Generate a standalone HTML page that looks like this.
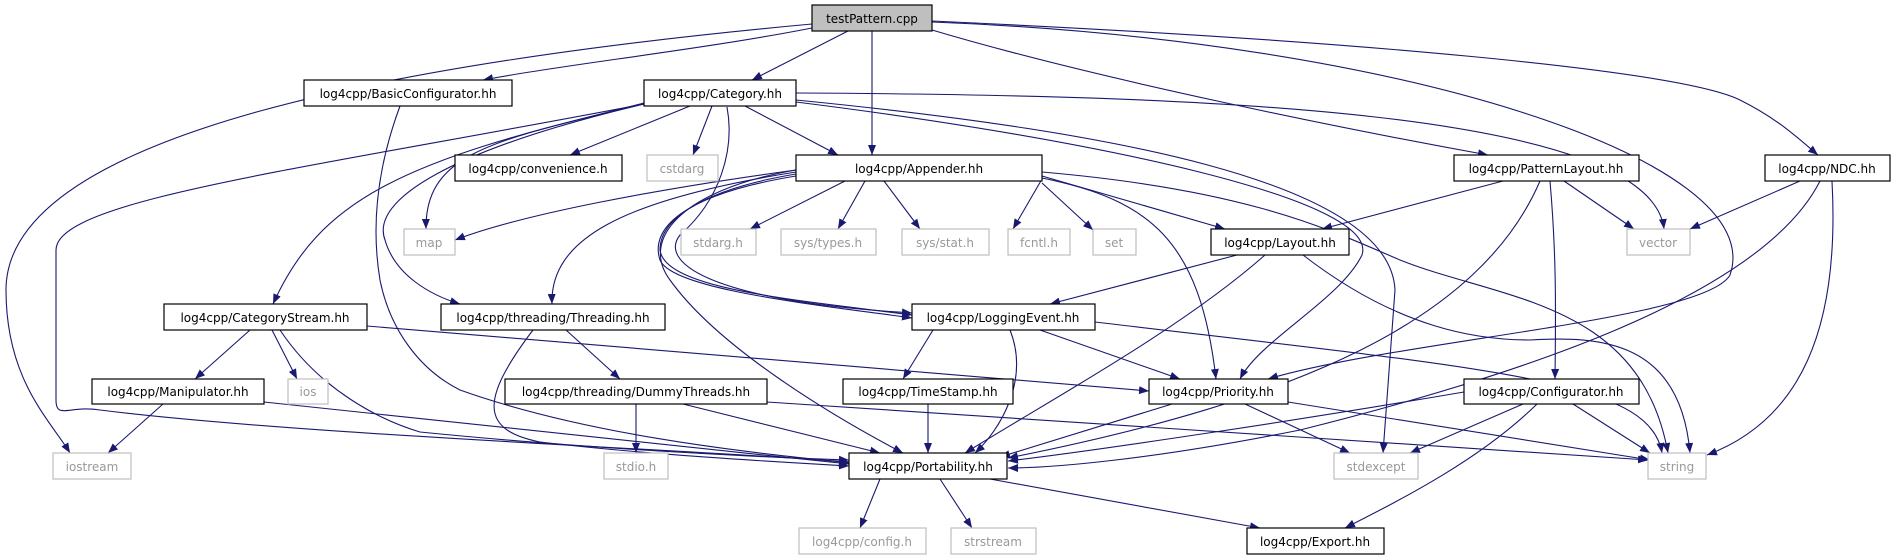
<!DOCTYPE html>
<html><head><meta charset="utf-8"><style>
html,body{margin:0;padding:0;background:#fff;width:1896px;height:560px;overflow:hidden}
svg text{font-family:"DejaVu Sans","Liberation Sans",sans-serif;font-size:12px;fill:#000}
</style></head><body>
<svg width="1896" height="560" viewBox="0 0 1896 560" xmlns="http://www.w3.org/2000/svg">
<defs>
<marker id="a" viewBox="0 0 10 8" refX="10" refY="4" markerWidth="10" markerHeight="8" markerUnits="userSpaceOnUse" orient="auto">
<path d="M0,0 L10,4 L0,8 z" fill="#191970"/>
</marker>
</defs>
<g fill="none" stroke="#191970" stroke-width="1.1" marker-end="url(#a)">
<path d="M812,24 C420,60 6,130 6,290 C6,380 50,420 70,453"/>
<path d="M812,28 C700,50 560,65 483,80"/>
<path d="M848,31 L752,80"/>
<path d="M872,31 L872,155"/>
<path d="M932,30 C1100,80 1350,130 1488,155"/>
<path d="M932,22 C1400,40 1770,160 1730,275 C1705,320 1400,340 1268,379"/>
<path d="M932,21 C1350,40 1680,70 1740,100 C1780,120 1800,140 1818,155"/>
<path d="M690,106 L570,155"/>
<path d="M712,106 L693,155"/>
<path d="M745,106 L838,155"/>
<path d="M644,103 C500,140 425,150 426,229"/>
<path d="M644,104 C400,160 320,200 273,304"/>
<path d="M644,104 C300,170 56,200 56,250 L56,400 C56,420 70,405 100,410 C300,435 700,450 849,462"/>
<path d="M644,104 C450,150 370,200 385,240 C395,275 430,295 460,304"/>
<path d="M727,107 C735,150 720,200 680,235 C660,260 700,300 912,313"/>
<path d="M796,93 C1200,95 1650,110 1664,229"/>
<path d="M796,100 C1100,130 1390,180 1395,290 L1383,453"/>
<path d="M796,102 C1100,140 1380,200 1362,255 C1340,300 1260,340 1240,379"/>
<path d="M400,106 C380,160 370,220 380,280 C390,330 420,370 460,390 C600,440 780,455 849,463"/>
<path d="M796,170 C650,190 520,215 455,240"/>
<path d="M845,181 L750,229"/>
<path d="M865,181 L838,229"/>
<path d="M884,181 L920,229"/>
<path d="M1042,179 L1013,229"/>
<path d="M1042,183 L1093,230"/>
<path d="M1042,176 L1225,229"/>
<path d="M1042,172 C1250,190 1330,230 1400,260 C1500,300 1640,300 1668,453"/>
<path d="M1042,178 C1150,200 1200,240 1216,379"/>
<path d="M796,172 C620,200 550,240 552,304"/>
<path d="M796,174 C700,190 660,220 660,250 C665,290 800,300 912,315"/>
<path d="M796,176 C680,195 650,230 660,260 C672,290 820,305 912,318"/>
<path d="M796,170 C680,190 640,240 670,280 C720,350 840,420 903,453"/>
<path d="M933,330 L903,379"/>
<path d="M1010,330 C1030,380 1000,430 975,453"/>
<path d="M1040,330 L1180,379"/>
<path d="M1095,322 C1500,370 1650,380 1662,453"/>
<path d="M1237,255 L1050,304"/>
<path d="M1265,255 C1180,330 1050,400 965,453"/>
<path d="M1303,255 C1400,330 1480,340 1530,340 C1600,336 1680,340 1690,453"/>
<path d="M1503,181 L1322,229"/>
<path d="M1564,181 L1634,229"/>
<path d="M1540,181 C1480,320 1300,400 1008,458"/>
<path d="M1550,181 C1556,250 1556,300 1555,379"/>
<path d="M1800,181 L1690,229"/>
<path d="M1832,181 C1840,330 1800,420 1707,455"/>
<path d="M1820,181 C1760,300 1500,380 1300,430 C1150,460 1050,468 1008,468"/>
<path d="M1464,392 C1300,420 1100,450 1008,461"/>
<path d="M1523,404 L1410,453"/>
<path d="M1573,404 L1650,453"/>
<path d="M1537,404 C1480,460 1400,500 1345,528"/>
<path d="M1172,404 L1000,457"/>
<path d="M1245,404 L1350,453"/>
<path d="M1288,402 L1650,460"/>
<path d="M880,479 L860,528"/>
<path d="M940,479 L972,528"/>
<path d="M990,479 L1260,528"/>
<path d="M250,330 L195,379"/>
<path d="M272,330 L297,379"/>
<path d="M280,330 C320,390 380,420 420,432 C600,450 780,458 849,460"/>
<path d="M367,326 L1149,391"/>
<path d="M163,404 L108,453"/>
<path d="M264,402 L849,464"/>
<path d="M566,330 L620,379"/>
<path d="M533,330 C480,400 480,430 540,442 C650,455 780,462 849,466"/>
<path d="M636,404 L636,453"/>
<path d="M683,404 L880,453"/>
<path d="M767,402 L1648,460"/>
<path d="M928,404 L928,453"/>
</g>
<g stroke-width="1.2">
<rect x="812" y="5" width="120" height="26" fill="#bfbfbf" stroke="#000"/>
<text x="872" y="23" text-anchor="middle">testPattern.cpp</text>
<g fill="#fff" stroke="#000">
<rect x="304" y="80" width="208" height="26"/>
<rect x="644" y="80" width="152" height="26"/>
<rect x="455" y="155" width="167" height="26"/>
<rect x="796" y="155" width="246" height="26"/>
<rect x="1454" y="155" width="185" height="26"/>
<rect x="1765" y="155" width="125" height="26"/>
<rect x="1211" y="229" width="138" height="26"/>
<rect x="164" y="304" width="203" height="26"/>
<rect x="441" y="304" width="224" height="26"/>
<rect x="912" y="304" width="183" height="26"/>
<rect x="92" y="379" width="172" height="25"/>
<rect x="505" y="379" width="262" height="25"/>
<rect x="843" y="379" width="170" height="25"/>
<rect x="1149" y="379" width="139" height="25"/>
<rect x="1464" y="379" width="175" height="25"/>
<rect x="849" y="453" width="158" height="26"/>
<rect x="1247" y="528" width="137" height="26"/>
</g>
<g fill="#fff" stroke="#bfbfbf">
<rect x="647" y="155" width="71" height="26"/>
<rect x="404" y="229" width="51" height="26"/>
<rect x="681" y="229" width="75" height="26"/>
<rect x="781" y="229" width="95" height="26"/>
<rect x="902" y="229" width="87" height="26"/>
<rect x="1008" y="229" width="62" height="26"/>
<rect x="1093" y="229" width="43" height="26"/>
<rect x="1627" y="229" width="63" height="26"/>
<rect x="288" y="379" width="40" height="25"/>
<rect x="53" y="453" width="78" height="26"/>
<rect x="604" y="453" width="64" height="26"/>
<rect x="1334" y="453" width="84" height="26"/>
<rect x="1648" y="453" width="58" height="26"/>
<rect x="799" y="528" width="127" height="26"/>
<rect x="951" y="528" width="85" height="26"/>
</g>
</g>
<g text-anchor="middle">
<text x="408" y="98">log4cpp/BasicConfigurator.hh</text>
<text x="720" y="98">log4cpp/Category.hh</text>
<text x="538" y="173">log4cpp/convenience.h</text>
<text x="682" y="173" style="fill:#999">cstdarg</text>
<text x="919" y="173">log4cpp/Appender.hh</text>
<text x="1546" y="173">log4cpp/PatternLayout.hh</text>
<text x="1827" y="173">log4cpp/NDC.hh</text>
<text x="429" y="247" style="fill:#999">map</text>
<text x="718" y="247" style="fill:#999">stdarg.h</text>
<text x="828" y="247" style="fill:#999">sys/types.h</text>
<text x="945" y="247" style="fill:#999">sys/stat.h</text>
<text x="1039" y="247" style="fill:#999">fcntl.h</text>
<text x="1114" y="247" style="fill:#999">set</text>
<text x="1280" y="247">log4cpp/Layout.hh</text>
<text x="1658" y="247" style="fill:#999">vector</text>
<text x="265" y="322">log4cpp/CategoryStream.hh</text>
<text x="553" y="322">log4cpp/threading/Threading.hh</text>
<text x="1003" y="322">log4cpp/LoggingEvent.hh</text>
<text x="178" y="396">log4cpp/Manipulator.hh</text>
<text x="308" y="396" style="fill:#999">ios</text>
<text x="636" y="396">log4cpp/threading/DummyThreads.hh</text>
<text x="928" y="396">log4cpp/TimeStamp.hh</text>
<text x="1218" y="396">log4cpp/Priority.hh</text>
<text x="1551" y="396">log4cpp/Configurator.hh</text>
<text x="92" y="471" style="fill:#999">iostream</text>
<text x="636" y="471" style="fill:#999">stdio.h</text>
<text x="928" y="471">log4cpp/Portability.hh</text>
<text x="1376" y="471" style="fill:#999">stdexcept</text>
<text x="1677" y="471" style="fill:#999">string</text>
<text x="862" y="546" style="fill:#999">log4cpp/config.h</text>
<text x="993" y="546" style="fill:#999">strstream</text>
<text x="1315" y="546">log4cpp/Export.hh</text>
</g>
</svg>
</body></html>
